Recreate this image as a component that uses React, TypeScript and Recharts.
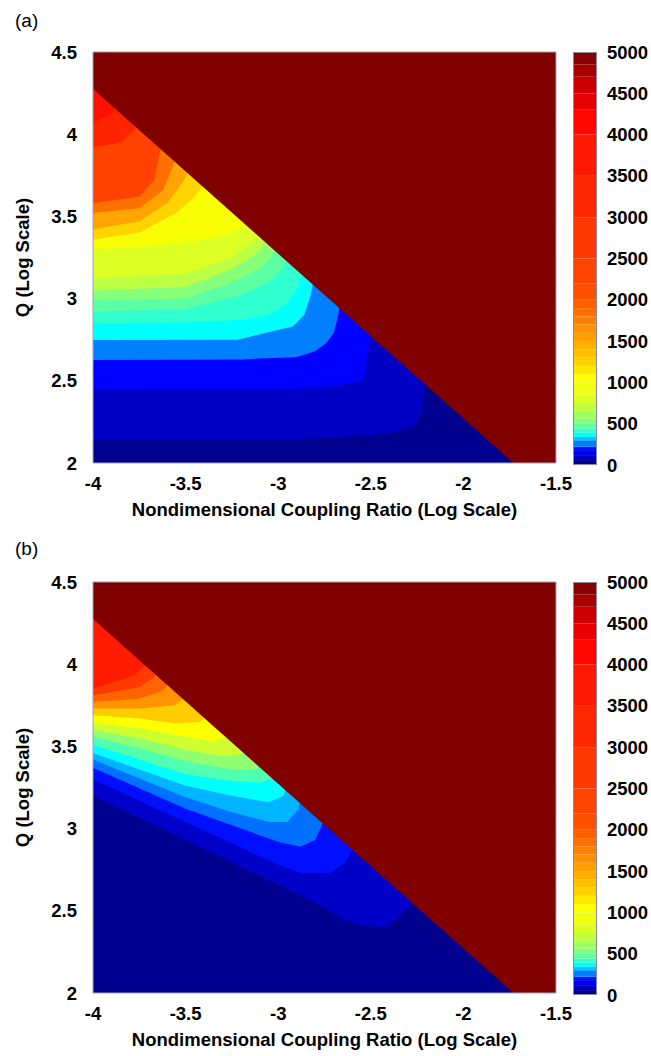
import React from "react";
import {
  ComposedChart,
  Area,
  XAxis,
  YAxis,
  ReferenceArea,
  BarChart,
  Bar,
} from "recharts";

type Pt = [number, number]; // [log coupling ratio, log Q]

const X_TICKS = [-4, -3.5, -3, -2.5, -2, -1.5];
const Q_TICKS = [2, 2.5, 3, 3.5, 4, 4.5];
const CB_TICKS = [0, 500, 1000, 1500, 2000, 2500, 3000, 3500, 4000, 4500, 5000];

const X_TITLE = "Nondimensional Coupling Ratio (Log Scale)";
const Y_TITLE = "Q (Log Scale)";

// edge of the saturated (dark red) region, same in both panels
const EDGE: Pt[] = [
  [-4, 4.275],
  [-1.73, 2],
  [-1.5, 2],
];

// colour bar: value edges and the colour of each step
const CB_EDGES = [
  0, 60, 120, 170, 220, 300, 340, 390, 440, 500, 560, 650, 750, 850, 1000, 1100,
  1200, 1300, 1400, 1500, 1600, 1700, 1800, 1900, 2000, 2200, 2500, 3000, 3500,
  4000, 4300, 4500, 4700, 4850, 5000,
];
const CB_COLORS = [
  "#000090", "#0000c0", "#0000e8", "#0010ff", "#0080ff", "#00c8ff", "#00ffff",
  "#30ffd0", "#60ffa0", "#80ff80", "#a0ff60", "#c0ff40", "#dcff22", "#f0ff10",
  "#ffff00", "#ffe800", "#ffd000", "#ffc000", "#ffb000", "#ffa000", "#ff9000",
  "#ff8000", "#ff7000", "#ff6000", "#ff5000", "#ff4400", "#ff3800", "#ff2800",
  "#ff1800", "#ff0800", "#e80000", "#cc0000", "#a80000", "#880000",
];

// ---- panel (a): upper edge of each colour band, bottom band first ----
const A_NAVY: Pt[] = [[-4, 2.14], [-2.9, 2.145], [-2.52, 2.165], [-2.36, 2.19], [-2.26, 2.23], [-2.22, 2.32], [-2.2, 2.6], [-1.5, 2.6]];
const A_DKBLUE: Pt[] = [[-4, 2.444], [-3, 2.445], [-2.75, 2.46], [-2.62, 2.485], [-2.54, 2.5], [-2.52, 2.62], [-2.49, 2.9], [-1.5, 2.9]];
const A_BLUE: Pt[] = [[-4, 2.627], [-3.2, 2.63], [-2.9, 2.645], [-2.8, 2.68], [-2.74, 2.73], [-2.7, 2.79], [-2.68, 2.88], [-2.65, 3.05], [-1.5, 3.05]];
const A_AZURE: Pt[] = [[-4, 2.748], [-3.22, 2.75], [-3.07, 2.79], [-2.92, 2.83], [-2.86, 2.9], [-2.83, 3.0], [-2.79, 3.2], [-1.5, 3.2]];
const A_CYAN: Pt[] = [[-4, 2.85], [-3.5, 2.855], [-3.2, 2.87], [-3.05, 2.9], [-2.95, 2.97], [-2.9, 3.05], [-2.86, 3.2], [-1.5, 3.3]];
const A_TEAL: Pt[] = [[-4, 2.92], [-3.5, 2.935], [-3.2, 3.02], [-3.05, 3.1], [-2.97, 3.19], [-2.93, 3.35], [-1.5, 3.4]];
const A_AQUA: Pt[] = [[-4, 2.99], [-3.5, 3.0], [-3.25, 3.1], [-3.1, 3.18], [-3.03, 3.26], [-2.99, 3.4], [-1.5, 3.5]];
const A_LGREEN: Pt[] = [[-4, 3.05], [-3.5, 3.07], [-3.25, 3.18], [-3.12, 3.27], [-3.07, 3.33], [-3.03, 3.5], [-1.5, 3.5]];
const A_YGREEN1: Pt[] = [[-4, 3.12], [-3.5, 3.15], [-3.25, 3.25], [-3.15, 3.33], [-3.1, 3.37], [-3.06, 3.55], [-1.5, 3.6]];
const A_YGREEN2: Pt[] = [[-4, 3.3], [-3.75, 3.31], [-3.45, 3.35], [-3.28, 3.39], [-3.19, 3.44], [-3.15, 3.6], [-1.5, 3.6]];
const A_YELLOW: Pt[] = [[-4, 3.36], [-3.75, 3.4], [-3.55, 3.52], [-3.45, 3.62], [-3.41, 3.68], [-3.37, 3.85], [-1.5, 3.9]];
const A_YORANGE: Pt[] = [[-4, 3.42], [-3.75, 3.47], [-3.6, 3.58], [-3.52, 3.7], [-3.49, 3.76], [-3.45, 3.9], [-1.5, 3.95]];
const A_ORANGE: Pt[] = [[-4, 3.52], [-3.75, 3.55], [-3.62, 3.66], [-3.57, 3.8], [-3.52, 4.0], [-1.5, 4.0]];
const A_DKORANGE: Pt[] = [[-4, 3.58], [-3.75, 3.62], [-3.67, 3.72], [-3.64, 3.88], [-3.6, 4.1], [-1.5, 4.1]];
const A_REDORANGE: Pt[] = [[-4, 3.92], [-3.85, 3.95], [-3.78, 4.02], [-3.74, 4.12], [-1.5, 4.2]];
const A_RED: Pt[] = [[-4, 4.07], [-3.9, 4.12], [-3.86, 4.2], [-1.5, 4.3]];
const A_RED2: Pt[] = [[-4, 4.5], [-1.5, 4.5]];

const A_TOPS = [A_NAVY, A_DKBLUE, A_BLUE, A_AZURE, A_CYAN, A_TEAL, A_AQUA, A_LGREEN, A_YGREEN1, A_YGREEN2, A_YELLOW, A_YORANGE, A_ORANGE, A_DKORANGE, A_REDORANGE, A_RED, A_RED2];
const A_COLORS = ["#00008f", "#0000c4", "#0000ff", "#0080ff", "#00ffff", "#30ffd0", "#5cffa4", "#88ff78", "#bcff44", "#dcff24", "#f8ff04", "#ffd400", "#ffa400", "#ff7000", "#ff4200", "#ff2400", "#ff1000"];

// ---- panel (b) ----
const B_NAVY: Pt[] = [[-4, 3.2], [-3.5, 2.93], [-3, 2.66], [-2.75, 2.52], [-2.65, 2.45], [-2.55, 2.41], [-2.42, 2.4], [-2.34, 2.47], [-2.27, 2.55], [-2.2, 2.8], [-1.5, 2.8]];
const B_DKBLUE: Pt[] = [[-4, 3.3], [-3.5, 3.04], [-3, 2.78], [-2.88, 2.73], [-2.72, 2.73], [-2.64, 2.79], [-2.6, 2.87], [-2.56, 3.0], [-1.5, 3.0]];
const B_BLUE: Pt[] = [[-4, 3.37], [-3.5, 3.12], [-3, 2.92], [-2.88, 2.89], [-2.8, 2.93], [-2.76, 3.03], [-2.72, 3.2], [-1.5, 3.2]];
const B_AZURE: Pt[] = [[-4, 3.42], [-3.5, 3.19], [-3.25, 3.1], [-3.05, 3.04], [-2.95, 3.04], [-2.89, 3.12], [-2.85, 3.3], [-1.5, 3.3]];
const B_SKY: Pt[] = [[-4, 3.46], [-3.5, 3.26], [-3.25, 3.2], [-3.05, 3.16], [-2.97, 3.2], [-2.93, 3.35], [-1.5, 3.35]];
const B_CYAN: Pt[] = [[-4, 3.51], [-3.75, 3.42], [-3.5, 3.33], [-3.25, 3.29], [-3.1, 3.28], [-3.02, 3.31], [-2.99, 3.4], [-1.5, 3.4]];
const B_AQUA: Pt[] = [[-4, 3.56], [-3.75, 3.49], [-3.5, 3.41], [-3.25, 3.36], [-3.12, 3.36], [-3.08, 3.4], [-3.04, 3.55], [-1.5, 3.55]];
const B_LGREEN: Pt[] = [[-4, 3.6], [-3.75, 3.55], [-3.5, 3.48], [-3.3, 3.44], [-3.2, 3.45], [-3.16, 3.5], [-3.12, 3.6], [-1.5, 3.6]];
const B_YGREEN: Pt[] = [[-4, 3.645], [-3.75, 3.61], [-3.5, 3.56], [-3.35, 3.53], [-3.28, 3.56], [-3.24, 3.65], [-1.5, 3.7]];
const B_YELLOW: Pt[] = [[-4, 3.69], [-3.75, 3.67], [-3.55, 3.64], [-3.42, 3.65], [-3.38, 3.7], [-3.34, 3.8], [-1.5, 3.8]];
const B_YORANGE: Pt[] = [[-4, 3.73], [-3.75, 3.73], [-3.56, 3.75], [-3.5, 3.8], [-3.46, 3.9], [-1.5, 3.9]];
const B_ORANGE: Pt[] = [[-4, 3.77], [-3.75, 3.79], [-3.62, 3.84], [-3.58, 3.9], [-3.54, 4.0], [-1.5, 4.0]];
const B_DKORANGE: Pt[] = [[-4, 3.81], [-3.75, 3.86], [-3.67, 3.92], [-3.64, 4.0], [-3.6, 4.1], [-1.5, 4.1]];
const B_REDORANGE: Pt[] = [[-4, 3.85], [-3.78, 3.93], [-3.72, 3.99], [-3.69, 4.1], [-1.5, 4.2]];
const B_RED: Pt[] = [[-4, 4.5], [-1.5, 4.5]];

const B_TOPS = [B_NAVY, B_DKBLUE, B_BLUE, B_AZURE, B_SKY, B_CYAN, B_AQUA, B_LGREEN, B_YGREEN, B_YELLOW, B_YORANGE, B_ORANGE, B_DKORANGE, B_REDORANGE, B_RED];
const B_COLORS = ["#00008f", "#0000c8", "#0010ff", "#0070ff", "#00b4ff", "#00ffff", "#50ffb0", "#90ff70", "#d0ff30", "#ffff00", "#ffcc00", "#ff9400", "#ff6400", "#ff3a00", "#ff1c00"];

const FONT = '"Liberation Sans", Arial, Helvetica, sans-serif';
const TICK = { fill: "#000", fontSize: 18.5, fontWeight: 700, fontFamily: FONT };
const TITLE = { fill: "#000", fontSize: 18.5, fontWeight: 700, fontFamily: FONT };

function Heatmap({ top, tops, colors }: { top: number; tops: Pt[][]; colors: string[] }) {
  // paint top band first, each lower band over it
  const layers = tops
    .map((pts, i) => ({ color: colors[i], data: pts.map(([x, q]) => ({ x, q })) }))
    .reverse();
  const edge = EDGE.map(([x, q]) => ({ x, q: [q, 4.5] }));

  return (
    <div style={{ position: "absolute", left: 0, top }}>
      <ComposedChart width={600} height={530} margin={{ top: 52, right: 44, bottom: 37, left: 33 }}>
        <XAxis
          type="number"
          dataKey="x"
          domain={[-4, -1.5]}
          ticks={X_TICKS}
          interval={0}
          allowDataOverflow
          axisLine={false}
          tickLine={false}
          tickSize={6}
          tickMargin={8}
          height={30}
          tick={TICK}
          label={{ value: X_TITLE, position: "bottom", offset: 10, style: TITLE }}
        />
        <YAxis
          type="number"
          domain={[2, 4.5]}
          ticks={Q_TICKS}
          interval={0}
          allowDataOverflow
          axisLine={false}
          tickLine={false}
          tickSize={6}
          tickMargin={10}
          width={60}
          tick={TICK}
          label={{
            value: Y_TITLE,
            angle: -90,
            position: "insideLeft",
            offset: -11,
            style: { ...TITLE, textAnchor: "middle" },
          }}
        />
        {layers.map((l, i) => (
          <Area
            key={i}
            data={l.data}
            dataKey="q"
            type="linear"
            baseValue={2}
            stroke="none"
            fill={l.color}
            fillOpacity={1}
            dot={false}
            activeDot={false}
            isAnimationActive={false}
          />
        ))}
        <Area
          data={edge}
          dataKey="q"
          type="linear"
          stroke="none"
          fill="#800000"
          fillOpacity={1}
          dot={false}
          activeDot={false}
          isAnimationActive={false}
        />
        <ReferenceArea x1={-4} x2={-1.5} y1={2} y2={4.5} fill="none" stroke="#9ea4b8" strokeWidth={1} ifOverflow="visible" />
      </ComposedChart>
    </div>
  );
}

function ColorBar({ top }: { top: number }) {
  const row: Record<string, number | string> = { name: "cb" };
  CB_COLORS.forEach((_, i) => {
    row[`s${i}`] = CB_EDGES[i + 1] - CB_EDGES[i];
  });
  return (
    <div style={{ position: "absolute", left: 560, top }}>
      <BarChart
        width={91}
        height={530}
        data={[row]}
        margin={{ top: 52, right: 0, bottom: 65, left: 13 }}
        barCategoryGap={0}
        barGap={0}
      >
        <XAxis dataKey="name" hide />
        <YAxis
          orientation="right"
          type="number"
          domain={[0, 5000]}
          ticks={CB_TICKS}
          interval={0}
          allowDataOverflow
          axisLine={false}
          tickLine={false}
          tickSize={4}
          tickMargin={6}
          width={54}
          tick={TICK}
        />
        {CB_COLORS.map((c, i) => (
          <Bar key={i} dataKey={`s${i}`} stackId="cb" fill={c} isAnimationActive={false} />
        ))}
      </BarChart>
      <div
        style={{
          position: "absolute",
          left: 13,
          top: 52,
          width: 24,
          height: 413,
          border: "1px solid #8a8a9a",
          boxSizing: "border-box",
          pointerEvents: "none",
        }}
      />
    </div>
  );
}

const panelLabel = (top: number): React.CSSProperties => ({
  position: "absolute",
  left: 15,
  top,
  fontFamily: FONT,
  fontSize: 19,
  lineHeight: "19px",
  color: "#000",
});

export default function App() {
  return (
    <div style={{ position: "absolute", left: 0, top: 0, width: 651, height: 1056, background: "#fff" }}>
      <div style={panelLabel(11)}>(a)</div>
      <Heatmap top={0} tops={A_TOPS} colors={A_COLORS} />
      <ColorBar top={0} />
      <div style={panelLabel(539)}>(b)</div>
      <Heatmap top={530} tops={B_TOPS} colors={B_COLORS} />
      <ColorBar top={530} />
    </div>
  );
}
